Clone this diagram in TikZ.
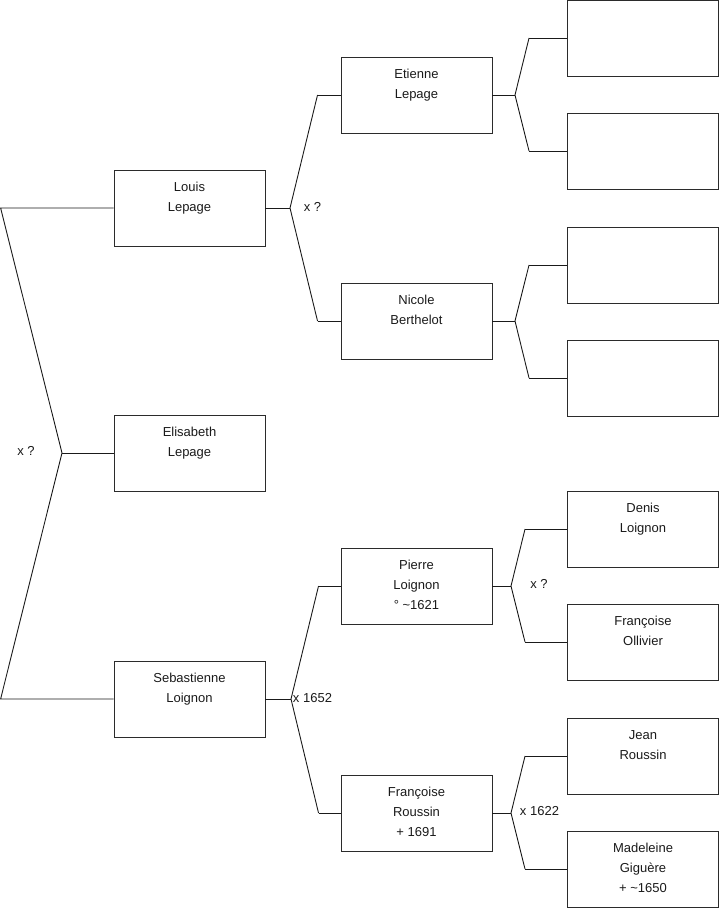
\documentclass[tikz,border=0pt]{standalone}
\usepackage{fontspec}
\setmainfont{Liberation Sans}
\definecolor{ftInk}{HTML}{1A1A1A}
\definecolor{ftEdge}{HTML}{2B2B2B}
\newcommand{\ftname}[1]{\parbox[c][76pt][t]{151pt}{\centering\vspace*{7.5pt}\strut #1}}
\tikzset{
  ft box/.style={draw=ftEdge, line width=0.95pt, inner sep=0pt, minimum width=151pt, minimum height=76pt, text=ftInk},
  ft link/.style={draw=ftInk, line width=0.9pt},
  ft label/.style={text=ftInk, inner sep=0pt},
}

\begin{document}
\begin{tikzpicture}[x=1pt,y=-1pt,font=\fontsize{13}{20}\selectfont]
  \useasboundingbox (0,0) rectangle (719,908);
  \node[ft box] (louis) at (189.5,208) {\ftname{Louis\\Lepage}};
  \node[ft box] (elis) at (189.5,453) {\ftname{Elisabeth\\Lepage}};
  \node[ft box] (sebast) at (189.5,699) {\ftname{Sebastienne\\Loignon}};
  \node[ft box] (etienne) at (416.5,95) {\ftname{Etienne\\Lepage}};
  \node[ft box] (nicole) at (416.5,321) {\ftname{Nicole\\Berthelot}};
  \node[ft box] (pierre) at (416.5,586) {\ftname{Pierre\\Loignon\\° \textasciitilde1621}};
  \node[ft box] (froussin) at (416.5,813) {\ftname{Françoise\\Roussin\\+ 1691}};
  \node[ft box] (etfather) at (643,38) {\ftname{}};
  \node[ft box] (etmother) at (643,151) {\ftname{}};
  \node[ft box] (nifather) at (643,265) {\ftname{}};
  \node[ft box] (nimother) at (643,378) {\ftname{}};
  \node[ft box] (denis) at (643,529) {\ftname{Denis\\Loignon}};
  \node[ft box] (follivier) at (643,642) {\ftname{Françoise\\Ollivier}};
  \node[ft box] (jean) at (643,756) {\ftname{Jean\\Roussin}};
  \node[ft box] (madeleine) at (643,869) {\ftname{Madeleine\\Giguère\\+ \textasciitilde1650}};

  \coordinate (rtop) at (0.6,208);
  \coordinate (rbot) at (0.6,699);
  \coordinate (jr) at (62,453);
  \coordinate (jl) at (290,208);
  \coordinate (js) at (291,699);
  \coordinate (je) at (515,95);
  \coordinate (jn) at (515,321);
  \coordinate (jp) at (511,586);
  \coordinate (jf) at (511,813);

  \draw[ft link] (louis.west) -- (rtop) -- (jr) -- (rbot) -- (sebast.west);
  \draw[ft link] (jr) -- (elis.west);
  \node[ft label] (mr) at (26,451) {x ?};

  \draw[ft link] (louis.east) -- (jl);
  \draw[ft link] ([xshift=-23pt]etienne.west) -- (jl) -- ([xshift=-23pt]nicole.west);
  \draw[ft link] ([xshift=-23pt]etienne.west) -- (etienne.west);
  \draw[ft link] ([xshift=-23pt]nicole.west) -- (nicole.west);
  \node[ft label] (ml) at (312.5,207) {x ?};

  \draw[ft link] (sebast.east) -- (js);
  \draw[ft link] ([xshift=-22pt]pierre.west) -- (js) -- ([xshift=-22pt]froussin.west);
  \draw[ft link] ([xshift=-22pt]pierre.west) -- (pierre.west);
  \draw[ft link] ([xshift=-22pt]froussin.west) -- (froussin.west);
  \node[ft label] (ms) at (312.5,698) {x 1652};

  \draw[ft link] (etienne.east) -- (je);
  \draw[ft link] ([xshift=-38pt]etfather.west) -- (je) -- ([xshift=-38pt]etmother.west);
  \draw[ft link] ([xshift=-38pt]etfather.west) -- (etfather.west);
  \draw[ft link] ([xshift=-38pt]etmother.west) -- (etmother.west);

  \draw[ft link] (nicole.east) -- (jn);
  \draw[ft link] ([xshift=-38pt]nifather.west) -- (jn) -- ([xshift=-38pt]nimother.west);
  \draw[ft link] ([xshift=-38pt]nifather.west) -- (nifather.west);
  \draw[ft link] ([xshift=-38pt]nimother.west) -- (nimother.west);

  \draw[ft link] (pierre.east) -- (jp);
  \draw[ft link] ([xshift=-42pt]denis.west) -- (jp) -- ([xshift=-42pt]follivier.west);
  \draw[ft link] ([xshift=-42pt]denis.west) -- (denis.west);
  \draw[ft link] ([xshift=-42pt]follivier.west) -- (follivier.west);
  \node[ft label] (mp) at (539,584) {x ?};

  \draw[ft link] (froussin.east) -- (jf);
  \draw[ft link] ([xshift=-42pt]jean.west) -- (jf) -- ([xshift=-42pt]madeleine.west);
  \draw[ft link] ([xshift=-42pt]jean.west) -- (jean.west);
  \draw[ft link] ([xshift=-42pt]madeleine.west) -- (madeleine.west);
  \node[ft label] (mf) at (539.5,811) {x 1622};
\end{tikzpicture}
\end{document}
